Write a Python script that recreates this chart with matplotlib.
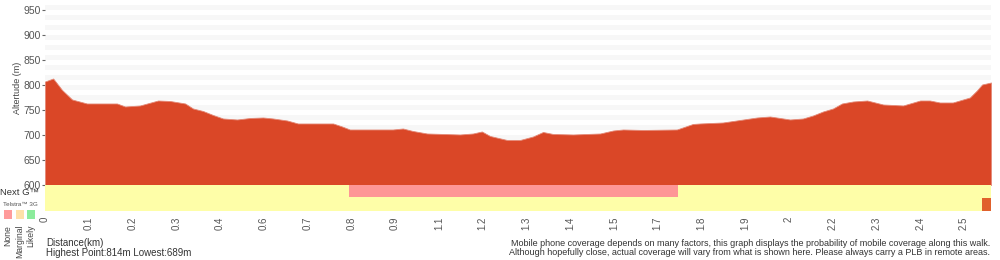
import numpy as np
from matplotlib import pyplot as plt
from matplotlib.patches import Rectangle
import matplotlib
matplotlib.rcParams['font.family'] = ['Liberation Sans', 'DejaVu Sans']

# elevation profile (km, m)
dist_km = [0.000, 0.022, 0.046, 0.073, 0.113, 0.194, 0.216, 0.256, 0.305, 0.337,
           0.378, 0.399, 0.426, 0.453, 0.480, 0.518, 0.553, 0.588, 0.615, 0.653,
           0.682, 0.777, 0.801, 0.822, 0.938, 0.965, 0.992, 1.030, 1.119, 1.154,
           1.178, 1.200, 1.246, 1.281, 1.316, 1.343, 1.370, 1.424, 1.497, 1.532,
           1.559, 1.613, 1.704, 1.747, 1.766, 1.828, 1.874, 1.920, 1.955, 1.982,
           2.009, 2.044, 2.071, 2.098, 2.125, 2.149, 2.179, 2.217, 2.260, 2.314,
           2.360, 2.386, 2.413, 2.448, 2.494, 2.513, 2.527, 2.551]
elev_m = [807, 813, 790, 771, 763, 763, 757, 759, 769, 768,
          763, 753, 748, 740, 733, 731, 734, 735, 733, 729,
          723, 723, 717, 711, 711, 713, 708, 703, 701, 703,
          707, 698, 690, 690, 697, 706, 702, 701, 703, 709,
          711, 710, 711, 722, 723, 725, 730, 735, 737, 734,
          731, 733, 739, 747, 753, 763, 767, 769, 761, 759,
          769, 769, 765, 765, 775, 789, 801, 805]

# coverage segments: (start km, end km, colour)
nextg_segments = [(0.0, 0.820, '#fefea8'), (0.820, 1.707, '#fe9696'), (1.707, 2.551, '#fefea8')]
g3_segments = [(0.0, 2.527, '#fefea8'), (2.527, 2.551, '#e0612c')]

tick_labels = ['0', '0.1', '0.2', '0.3', '0.4', '0.6', '0.7', '0.8', '0.9', '1.1', '1.2',
               '1.3', '1.4', '1.5', '1.7', '1.8', '1.9', '2', '2.2', '2.3', '2.4', '2.5']
tick_step = 0.118
yticks = [600, 650, 700, 750, 800, 850, 900, 950]

legend_labels = ['None', 'Marginal', 'Likely']
legend_colors = ['#ff9b9b', '#ffe1a9', '#8cec9c']

fig = plt.figure(figsize=(10, 2.6), dpi=100)
ax = fig.add_axes([0.045, 0.2885, 0.946, 0.6923])
cov = fig.add_axes([0.045, 0.1885, 0.946, 0.1])

# striped background
for lo in range(610, 960, 20):
    ax.axhspan(lo, lo + 10, color='#f7f7f7', lw=0, zorder=0)
ax.fill_between(dist_km, elev_m, 600, color='#da4727', lw=0.6, edgecolor='#e48a78', zorder=2)
ax.set_xlim(0, dist_km[-1])
ax.set_ylim(600, 960)
ax.set_xticks([])
ax.set_yticks(yticks)
ax.tick_params(axis='y', length=2, width=0.8, color='#666666', pad=1, labelsize=7.5, labelcolor='#555555')
for s in ax.spines.values():
    s.set_visible(False)
ax.set_ylabel('Altertude (m)', fontsize=6.5, color='#444444')
ax.yaxis.set_label_coords(-0.024, 0.54)

# coverage strip
for x0, x1, c in nextg_segments:
    cov.add_patch(Rectangle((x0, 0.5), x1 - x0, 0.5, color=c, lw=0))
for x0, x1, c in g3_segments:
    cov.add_patch(Rectangle((x0, 0.0), x1 - x0, 0.5, color=c, lw=0))
# the Next G band stops a little short of the 3G row
cov.add_patch(Rectangle((nextg_segments[1][0], 0.5), nextg_segments[1][1] - nextg_segments[1][0], 0.04,
                        color='#fefea8', lw=0))
cov.set_xlim(0, dist_km[-1])
cov.set_ylim(0, 1)
cov.set_yticks([])
cov.set_xticks(np.arange(len(tick_labels)) * tick_step)
cov.set_xticklabels(tick_labels, rotation=90, fontsize=7, color='#555555', va='top')
cov.tick_params(axis='x', length=0, pad=4)
for s in cov.spines.values():
    s.set_visible(False)

# legend on the left
fig.text(0.0, 0.26, 'Next G\u2122', fontsize=6.8, color='#333333', ha='left', va='center')
fig.text(0.003, 0.212, 'Telstra\u2122 3G', fontsize=4.5, color='#555555', ha='left', va='center')
for i, (lab, c) in enumerate(zip(legend_labels, legend_colors)):
    x0 = 0.004 + i * 0.0115
    fig.add_artist(Rectangle((x0, 0.158), 0.008, 0.035, color=c, transform=fig.transFigure, lw=0))
    fig.text(x0 + 0.004, 0.135, lab, rotation=90, fontsize=6.2, color='#444444', ha='center', va='top')

fig.text(0.046, 0.065, 'Distance(km)', fontsize=7, color='#333333', ha='left', va='center')
fig.text(0.046, 0.027, 'Highest Point:814m Lowest:689m', fontsize=7, color='#333333', ha='left', va='center')
fig.text(0.99, 0.065, 'Mobile phone coverage depends on many factors, this graph displays the probability of mobile coverage along this walk.',
         fontsize=6.5, color='#333333', ha='right', va='center')
fig.text(0.99, 0.027, 'Although hopefully close, actual coverage will vary from what is shown here. Please always carry a PLB in remote areas.',
         fontsize=6.5, color='#333333', ha='right', va='center')

fig.savefig('out.png', dpi=100)
